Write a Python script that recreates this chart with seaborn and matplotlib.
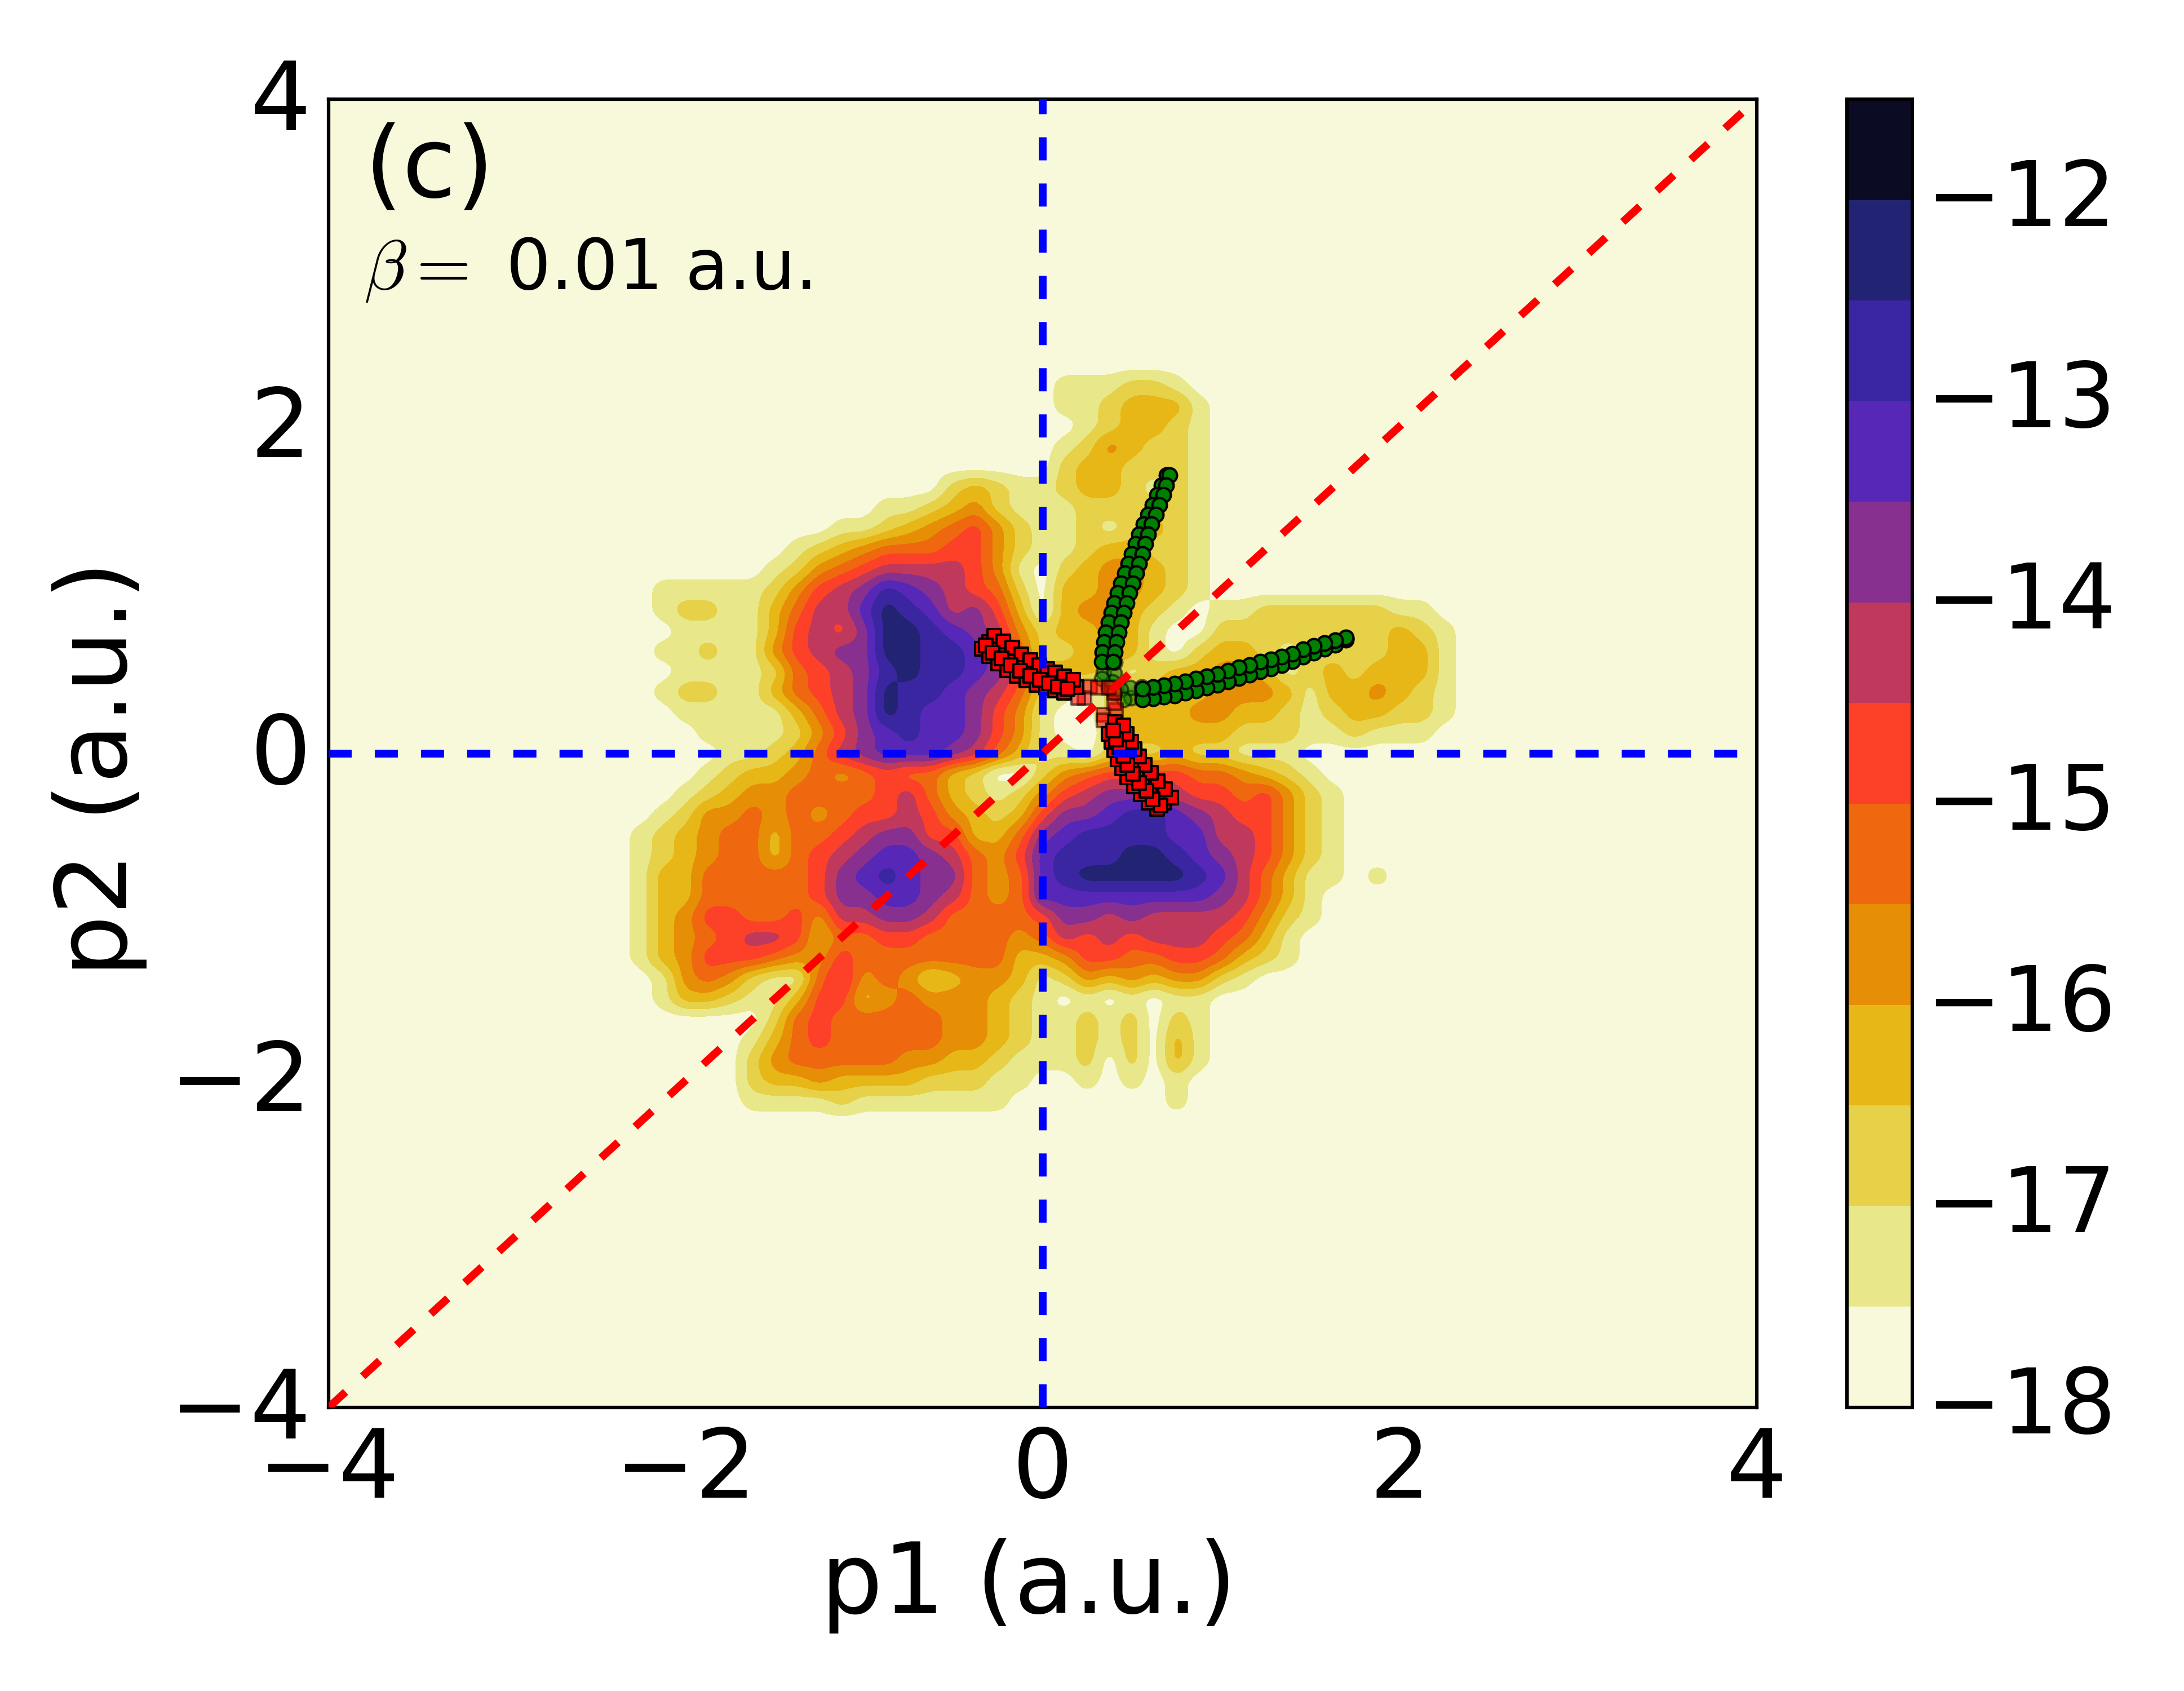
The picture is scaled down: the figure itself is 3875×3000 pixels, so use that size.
import numpy as np
import pandas as pd
import matplotlib
matplotlib.use("Agg")
import matplotlib.pyplot as plt
from matplotlib.transforms import ScaledTranslation
import seaborn as sns

# Contour band at each grid node (hex digit: 0 = lowest band, b = -12.5..-12)
p2_top = 2.25
p2_step = -0.125
p1_left = -2.25
p1_step = 0.125
band_rows = [
    "0" * 19 + "1112210",
    "0" * 19 + "1123331",
    "0" * 19 + "0123321",
    "0" * 19 + "1243221",
    "0" * 19 + "2332221",
    "0" * 14 + "23211" + "2332121",
    "0" * 11 + "11234211" + "1222221",
    "0" * 9 + "1123456421" + "1212321",
    "0" * 7 + "123455566421" + "1233221",
    "0" * 6 + "1245677776410" + "2344321",
    "011111" + "24678a9876520" + "3344321",
    "0122113" + "5779ba978630" + "34432101122222211",
    "0011113" + "6768bba98742" + "334310022222222321",
    "0112114" + "6788bbaa9852" + "234310233212222331",
    "0011112" + "5678abaa9863" + "332123344312323331",
    "0122113" + "5678baa98752" + "102333344431334321",
    "0011111" + "3578ba998641" + "002333443321233221",
    "0001111" + "24689a998641" + "00133333222112111",
    "0000112" + "357899987531" + "10222322111",
    "0001233" + "454565532002" + "456666554321",
    "0012344" + "555567532124" + "6788876656421",
    "0124454" + "545667643236" + "889aa98766421",
    "1234553" + "556788663358" + "9aaaa99776421",
    "1234553" + "567899875469" + "aaabba9876421",
    "1335555" + "5689a9885459" + "abbbbba97531101",
    "1335555" + "568899875459" + "999999987531",
    "1346655" + "647788755556" + "887877776421",
    "1345677" + "635566555545" + "76767776531",
    "1346665" + "446555555533" + "46655665321",
    "0145421" + "157454234431" + "2434344210",
    "0133211" + "366345444321" + "0101011",
    "0000002" + "565555544321" + "1212021",
    "0000013" + "565555544321" + "1212031",
    "0000024" + "555554433211" + "1202031",
    "0000023" + "343333222110" + "0101010",
    "0000011" + "112111111100" + "0000010",
]

green_p2 = [1.70, 1.64, 1.58, 1.52, 1.46, 1.40, 1.34, 1.28, 1.22, 1.16, 1.10, 1.04, .98, .92, .86, .80, .74, .68, .62, .56]
green_mid = [.70, .675, .655, .635, .61, .585, .565, .55, .53, .51, .49, .47, .45, .435, .42, .405, .39, .38, .37, .36]
green_left = [.695, .665, .64, .615, .59, .565, .54, .52, .50, .48, .46, .44, .42, .40, .385, .37, .355, .345, .335, .33]
green_right = [.71, .69, .675, .655, .635, .61, .59, .575, .56, .54, .525, .505, .485, .47, .455, .44, .425, .415, .405, .395]
green_faint_p1 = [.34, .40, .39, .33, .405, .37]
green_faint_p2 = [.495, .49, .435, .455, .555, .40]

red_p1 = [.68, .64, .60, .56, .525, .495, .47, .45, .43, .415, .405,
          .64, .595, .55, .51, .475, .445, .42, .40, .385, .37,
          .72, .685, .645, .605, .57, .54, .515, .495, .47, .45,
          .66, .615, .58, .54, .505, .475, .45, .43, .41, .395]
red_p2 = [-.30, -.26, -.21, -.16, -.11, -.06, -.01, .04, .09, .14, .19,
          -.34, -.30, -.25, -.20, -.145, -.09, -.035, .02, .07, .12,
          -.27, -.22, -.17, -.12, -.07, -.02, .025, .07, .12, .17,
          -.32, -.28, -.23, -.18, -.125, -.07, -.015, .035, .085, .14]
red_faint_p1 = [.34, .34, .41, .40, .40]
red_faint_p2 = [.235, .20, .265, .31, .37]

levels = np.arange(-18, -11.4, 0.5)
ticks = [-18, -17, -16, -15, -14, -13, -12]

sns.set_theme(style="ticks", rc={
    "font.family": ["DejaVu Sans"], "axes.edgecolor": "black", "axes.linewidth": 1.8,
    "xtick.direction": "in", "ytick.direction": "in", "xtick.top": True, "ytick.right": True,
    "xtick.major.size": 5.5, "ytick.major.size": 5.5, "xtick.major.width": 0.8, "ytick.major.width": 0.8,
    "xtick.color": "black", "ytick.color": "black", "text.color": "black", "axes.labelcolor": "black",
})

n_c = 39
codes = np.array([[int(ch, 16) for ch in r.ljust(n_c, "0")] for r in band_rows], dtype=float)
p1_nodes = p1_left + p1_step * np.arange(n_c)
p2_nodes = p2_top + p2_step * np.arange(len(band_rows))
Z = 0.5 * codes
Z = np.pad(Z, 1, constant_values=0)
p1_nodes = np.r_[p1_nodes[0] - p1_step, p1_nodes, p1_nodes[-1] + p1_step]
p2_nodes = np.r_[p2_nodes[0] - p2_step, p2_nodes, p2_nodes[-1] + p2_step][::-1]
Z = Z[::-1]
fine_p1 = np.arange(-4, 4.0001, 0.0125)
fine_p2 = np.arange(-4, 4.0001, 0.0125)
Zf = np.array([np.interp(fine_p1, p1_nodes, row, left=0, right=0) for row in Z])
Zf = np.array([np.interp(fine_p2, p2_nodes, col, left=0, right=0) for col in Zf.T]).T
kernel = np.ones(7) / 7
Zf = np.apply_along_axis(lambda v: np.convolve(v, kernel, mode="same"), 0, Zf)
Zf = np.apply_along_axis(lambda v: np.convolve(v, kernel, mode="same"), 1, Zf)
Zf = Zf - 17.75

fig = plt.figure(figsize=(15.5, 12), dpi=250)
W, H = 3875, 3000
ax = fig.add_axes([583 / W, 1 - 2497 / H, (3117 - 583) / W, (2497 - 176) / H])
cax = fig.add_axes([3277 / W, 1 - 2497 / H, 116 / W, (2497 - 176) / H])

cmap = sns.color_palette("CMRmap_r", as_cmap=True)
cf = ax.contourf(fine_p1, fine_p2, Zf, levels=levels, cmap=cmap, antialiased=False)

def markers(x, y, marker, color, size, alpha):
    d = pd.DataFrame({"p1": x, "p2": y})
    sns.scatterplot(data=d, x="p1", y="p2", ax=ax, marker=marker, color=color, s=size,
                    edgecolor="black", linewidth=1.2, alpha=alpha, zorder=3, legend=False)

g_all_p1 = green_mid + green_left + green_right
g_all_p2 = green_p2 * 3
markers(green_faint_p1 + green_faint_p2, green_faint_p2 + green_faint_p1, "o", "green", 55, 0.55)
markers(g_all_p1 + g_all_p2, g_all_p2 + g_all_p1, "o", "green", 55, 1)
markers(red_faint_p1 + red_faint_p2, red_faint_p2 + red_faint_p1, "s", "red", 48, 0.55)
markers(red_p1 + red_p2, red_p2 + red_p1, "s", "red", 48, 1)

dash = (0, (2.95, 2.95))
ax.axhline(0, color="blue", lw=4, ls=dash, zorder=4)
ax.axvline(0, color="blue", lw=4, ls=dash, zorder=4)
ax.plot([-4, 4], [-4, 4], color="red", lw=4, ls=dash, zorder=4)

ax.set_xlim(-4, 4)
ax.set_ylim(-4, 4)
ax.set_xticks([-4, -2, 0, 2, 4])
ax.set_yticks([-4, -2, 0, 2, 4])
ax.tick_params(axis="x", labelsize=49, pad=9)
ax.tick_params(axis="y", labelsize=49, pad=9)
ax.set_xlabel("p1 (a.u.)", fontsize=50)
ax.set_ylabel("p2 (a.u.)", fontsize=50)
ax.xaxis.set_label_coords(0.49, -0.1)
ax.yaxis.set_label_coords(-0.127, 0.488)
ax.text(-3.80, 3.40, "(c)", fontsize=50)
ax.text(-3.80, 2.84, r"$\beta=$ 0.01 a.u.", fontsize=36, math_fontfamily="cm")

cb = fig.colorbar(cf, cax=cax, ticks=ticks)
cb.ax.tick_params(labelsize=46, direction="in", length=5.5, width=0.8, pad=7, right=True)
cb.outline.set_linewidth(1.8)
cb.outline.set_edgecolor("black")

fig.canvas.draw()
shift_y = ScaledTranslation(0, 10 / 250, fig.dpi_scale_trans)
for lab in ax.get_yticklabels():
    lab.set_transform(lab.get_transform() + shift_y)
shift_c = ScaledTranslation(0, 15 / 250, fig.dpi_scale_trans)
for lab in cb.ax.get_yticklabels():
    lab.set_transform(lab.get_transform() + shift_c)

fig.savefig("out.png", dpi=250)
